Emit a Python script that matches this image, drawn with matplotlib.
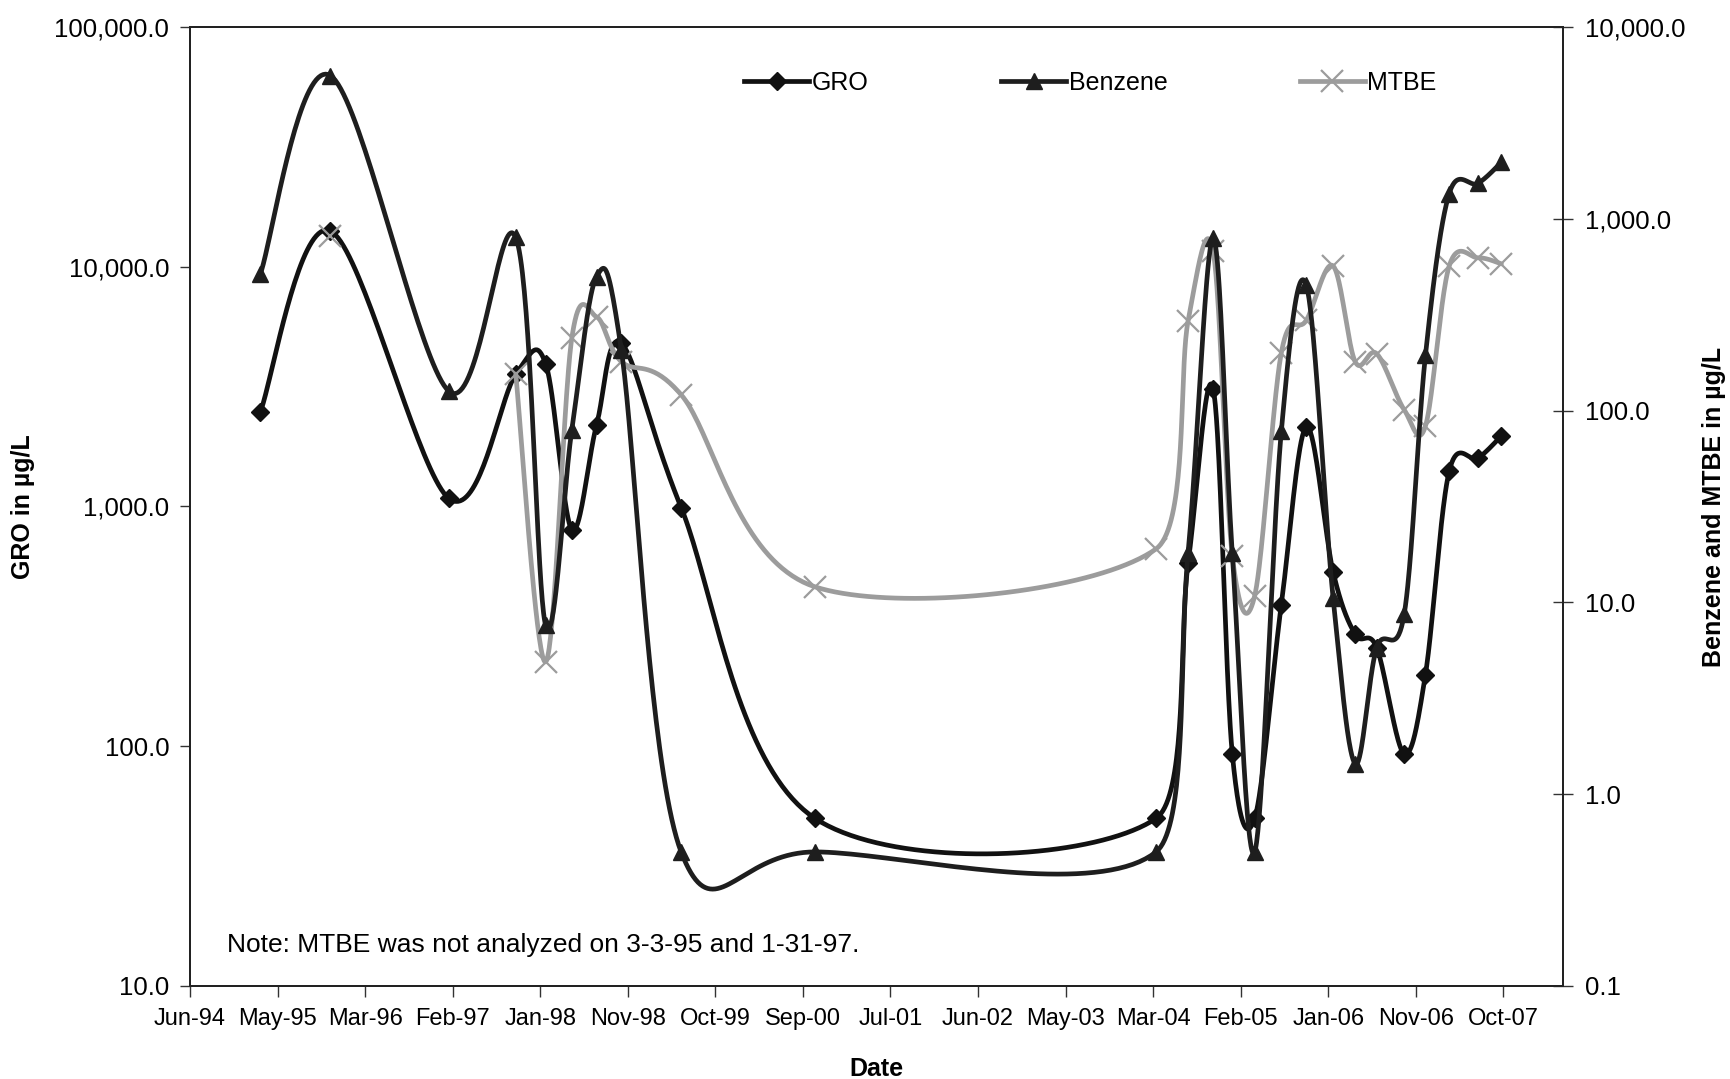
import numpy as np
import pandas as pd
import matplotlib
matplotlib.use('Agg')
import matplotlib.pyplot as plt
import matplotlib.dates as mdates
from matplotlib.ticker import FixedLocator, FuncFormatter, NullLocator

plt.rcParams['font.family'] = ['Liberation Sans', 'DejaVu Sans']

# sampling dates
dates = ['1995-03-03', '1995-11-18', '1997-01-31', '1997-10-06', '1998-01-25',
         '1998-05-02', '1998-08-02', '1998-11-02', '1999-06-12', '2000-10-21',
         '2004-04-09', '2004-08-06', '2004-11-07', '2005-01-17', '2005-04-10',
         '2005-07-18', '2005-10-19', '2006-01-26', '2006-04-18', '2006-07-07',
         '2006-10-17', '2007-01-04', '2007-04-02', '2007-07-18', '2007-10-13']

# concentrations, ug/L
gro = [2480, 14100, 1080, 3560, 3940, 800, 2190, 4800, 990, 50,
       50, 580, 3100, 93, 50, 390, 2150, 535, 293, 258,
       93, 199, 1400, 1590, 1970]
benzene = [515, 5580, 126, 800, 7.6, 79, 500, 207, 0.5, 0.5,
           0.5, 18.2, 790, 18.0, 0.5, 78, 450, 10.6, 1.44, 5.8,
           8.66, 194, 1350, 1530, 1970]
mtbe = [np.nan, 818, np.nan, 155, 4.9, 238, 308, 180, 121, 12.05,
        19, 294, 676, 17.5, 10.8, 200, 296, 568, 180, 198,
        101, 83, 566, 626, 582]

gro_ticks = [10, 100, 1000, 10000, 100000]
bm_ticks = [0.1, 1, 10, 100, 1000, 10000]

x_start = np.datetime64('1994-06-15')
x_step = 325   # days between date ticks
x_end = x_start + np.timedelta64(5097, 'D')


def smooth(x, y, n=40):
    # excel style smoothed line, bezier through the points (y in log space)
    p = np.column_stack([x, np.log10(y)])
    segs = []
    for i in range(len(p) - 1):
        p0 = p[i - 1] if i > 0 else p[i]
        p1, p2 = p[i], p[i + 1]
        p3 = p[i + 2] if i + 2 < len(p) else p2
        span = p2[0] - p1[0]
        t1 = (p2 - p0) / 6.0
        t2 = (p3 - p1) / 6.0
        if t1[0] > span:
            t1 = t1 * span / t1[0]
        if t2[0] > span:
            t2 = t2 * span / t2[0]
        c1 = p1 + t1
        c2 = p2 - t2
        t = np.linspace(0, 1, n)[:, None]
        s = (1 - t)**3 * p1 + 3 * (1 - t)**2 * t * c1 + 3 * (1 - t) * t**2 * c2 + t**3 * p2
        segs.append(s if i == 0 else s[1:])
    s = np.vstack(segs)
    return s[:, 0], 10**s[:, 1]


def draw(ax, x, y, color, lw, marker, ms, mew, mfc):
    y = np.asarray(y, dtype=float)
    ok = ~np.isnan(y)
    # split into runs without gaps
    idx = np.where(ok)[0]
    runs = np.split(idx, np.where(np.diff(idx) > 1)[0] + 1)
    for r in runs:
        if len(r) > 1:
            sx, sy = smooth(x[r], y[r])
            ax.plot(sx, sy, color=color, lw=lw, solid_capstyle='round')
    ax.plot(x[ok], y[ok], ls='none', marker=marker, ms=ms, color=color,
            mew=mew, mfc=mfc, mec=color)


x = mdates.date2num(pd.to_datetime(dates))

fig = plt.figure(figsize=(17.31, 10.79), dpi=100)
ax = fig.add_axes([0.1098, 0.0862, 0.7932, 0.8888])
ax2 = ax.twinx()

draw(ax, x, gro, '#111111', 3.4, 'D', 9, 1, '#111111')
draw(ax2, x, mtbe, '#9c9c9c', 3.4, 'x', 16, 1.6, '#9c9c9c')
draw(ax2, x, benzene, '#1e1e1e', 3.4, '^', 11, 1, '#1e1e1e')

fmt = FuncFormatter(lambda v, p: '{:,.1f}'.format(v))
ax.set_yscale('log')
ax.set_ylim(10, 100000)
ax.yaxis.set_major_locator(FixedLocator(gro_ticks))
ax.yaxis.set_minor_locator(NullLocator())
ax.yaxis.set_major_formatter(fmt)

ax2.set_yscale('log')
ax2.set_ylim(0.1, 10000)
ax2.yaxis.set_major_locator(FixedLocator(bm_ticks))
ax2.yaxis.set_minor_locator(NullLocator())
ax2.yaxis.set_major_formatter(fmt)

xt = x_start + np.arange(16) * np.timedelta64(x_step, 'D')
ax.set_xlim(mdates.date2num(pd.Timestamp(x_start)), mdates.date2num(pd.Timestamp(x_end)))
ax.set_xticks(mdates.date2num(pd.to_datetime(xt)))
ax.xaxis.set_major_formatter(mdates.DateFormatter('%b-%y'))

ax.tick_params(axis='x', labelsize=17, length=8, width=1, direction='out', color='#333333', pad=8)
ax.tick_params(axis='y', labelsize=18.5, length=7, width=1, direction='out', color='#333333', pad=8)
ax2.tick_params(axis='y', labelsize=18.5, length=14, width=1, direction='inout', color='#333333', pad=9)
for a in (ax, ax2):
    for s in a.spines.values():
        s.set_linewidth(1.4)
        s.set_color('#222222')

ax.set_xlabel('Date', fontsize=18, fontweight='bold', labelpad=19)
ax.set_ylabel('GRO in µg/L', fontsize=18, fontweight='bold', labelpad=14)
ax2.set_ylabel('Benzene and MTBE in µg/L', fontsize=18, fontweight='bold', labelpad=12)

ax.text(0.027, 0.043, 'Note: MTBE was not analyzed on 3-3-95 and 1-31-97.',
        transform=ax.transAxes, fontsize=19, va='center', ha='left')

h = [plt.Line2D([], [], color='#111111', lw=3.4, marker='D', ms=9),
     plt.Line2D([], [], color='#1e1e1e', lw=3.4, marker='^', ms=11),
     plt.Line2D([], [], color='#9c9c9c', lw=3.4, marker='x', ms=16, mew=1.6)]
fig.legend(h, ['GRO', 'Benzene', 'MTBE'], loc='center', bbox_to_anchor=(0.63, 0.923),
           ncol=3, frameon=False, fontsize=18, handlelength=2.6, handletextpad=0.1,
           columnspacing=5.3, markerscale=1)

plt.savefig('out.png', dpi=100)
